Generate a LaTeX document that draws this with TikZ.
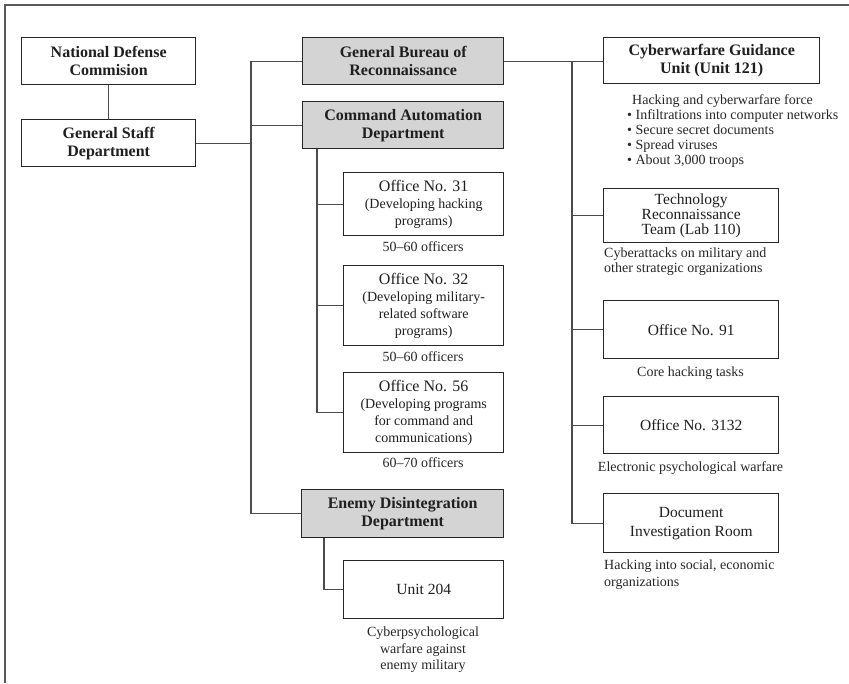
\documentclass[tikz,border=0pt]{standalone}
\usepackage{fontspec}
\setmainfont{Liberation Serif}
\begin{document}
\begin{tikzpicture}[x=1pt,y=-1pt,
  box/.style={draw=black!85, line width=1.4pt, fill=white, align=center, inner sep=2pt, anchor=north west, text=black!88},
  gbox/.style={box, fill=black!17},
  bt/.style={font=\bfseries\fontsize{16}{18}\selectfont},
  rt/.style={font=\fontsize{15.5}{16}\selectfont},
  st/.style={font=\fontsize{14}{17}\selectfont},
  conn/.style={draw=black!70, line width=1.1pt},
  captext/.style={font=\fontsize{14}{15}\selectfont, text=black!85, inner sep=0pt}
]
\useasboundingbox (0,0) rectangle (849,683);
\draw[draw=black!65, line width=1.6pt] (5,683) -- (5,5) -- (849,5);

% left column
\node[box,bt,minimum width=174pt,minimum height=47pt] (ndc) at (21,37) {National Defense\\Commision};
\node[box,bt,minimum width=174pt,minimum height=47pt] (gsd) at (21,119) {General Staff\\Department};

% middle column
\node[gbox,bt,minimum width=201pt,minimum height=47pt] (gbr) at (302,37) {General Bureau of\\Reconnaissance};
\node[gbox,bt,minimum width=201pt,minimum height=47pt] (cad) at (302,101) {Command Automation\\Department};
\node[box,st,minimum width=160pt,minimum height=63pt] (o31) at (343,172) {{\fontsize{16}{17}\selectfont Office No. 31}\\(Developing hacking\\programs)};
\node[box,st,minimum width=160pt,minimum height=80pt] (o32) at (343,265) {{\fontsize{16}{17}\selectfont Office No. 32}\\(Developing military-\\related software\\programs)};
\node[box,st,minimum width=160pt,minimum height=80pt] (o56) at (343,372) {{\fontsize{16}{17}\selectfont Office No. 56}\\(Developing programs\\for command and\\communications)};
\node[gbox,bt,minimum width=202pt,minimum height=48pt] (ed) at (301,489) {Enemy Disintegration\\Department};
\node[box,rt,minimum width=160pt,minimum height=58pt] (u204) at (343,560) {Unit 204};

\node[captext,anchor=base] (c31) at (423,251) {50--60 officers};
\node[captext,anchor=base] (c32) at (423,361) {50--60 officers};
\node[captext,anchor=base] (c56) at (423,467) {60--70 officers};
\node[captext,anchor=base] (cu1) at (423,636) {Cyberpsychological};
\node[captext,anchor=base] (cu2) at (423,653) {warfare against};
\node[captext,anchor=base] (cu3) at (423,669) {enemy military};

% right column
\node[box,bt,minimum width=216pt,minimum height=46pt] (cgu) at (603,37) {Cyberwarfare Guidance\\Unit (Unit 121)};
\node[box,font=\fontsize{15.5}{15}\selectfont,minimum width=175pt,minimum height=54pt] (trt) at (603,188) {Technology\\Reconnaissance\\Team (Lab 110)};
\node[box,rt,minimum width=175pt,minimum height=58pt] (o91) at (603,300) {Office No. 91};
\node[box,rt,minimum width=175pt,minimum height=57pt] (o3132) at (603,396) {Office No. 3132};
\node[box,font=\fontsize{15.5}{19}\selectfont,minimum width=175pt,minimum height=59pt] (dir) at (603,493) {Document\\Investigation Room};

\node[captext,anchor=base west] (g0) at (632,104) {Hacking and cyberwarfare force};
\node[captext,anchor=base west] (g1) at (627,119) {• Infiltrations into computer networks};
\node[captext,anchor=base west] (g2) at (627,134) {• Secure secret documents};
\node[captext,anchor=base west] (g3) at (627,149) {• Spread viruses};
\node[captext,anchor=base west] (g4) at (627,164) {• About 3,000 troops};
\node[captext,anchor=base west] (t1) at (604,257) {Cyberattacks on military and};
\node[captext,anchor=base west] (t2) at (604,272) {other strategic organizations};
\node[captext,anchor=base] (n91) at (690.5,376) {Core hacking tasks};
\node[captext,anchor=base] (n3132) at (690.5,471) {Electronic psychological warfare};
\node[captext,anchor=base west] (d1) at (604,569) {Hacking into social, economic};
\node[captext,anchor=base west] (d2) at (604,586) {organizations};

% trunk x positions
\coordinate (tx) at (251,0);
\coordinate (cx) at (317,0);
\coordinate (ex) at (324,0);
\coordinate (rx) at (572,0);

% connectors
\draw[conn] (ndc.south) -- (gsd.north);
\draw[conn] (gsd.east) -- (gsd.east -| tx);
\draw[conn] (gbr.west) -- (gbr.west -| tx) |- (ed.west);
\draw[conn] (cad.west) -- (cad.west -| tx);
\draw[conn] (cad.south -| cx) |- (o56.west);
\draw[conn] (o31.west) -- (o31.west -| cx);
\draw[conn] (o32.west) -- (o32.west -| cx);
\draw[conn] (ed.south -| ex) |- (u204.west);
\draw[conn] (gbr.east) -- (gbr.east -| cgu.west);
\draw[conn] (gbr.east -| rx) |- (dir.west);
\draw[conn] (trt.west) -- (trt.west -| rx);
\draw[conn] (o91.west) -- (o91.west -| rx);
\draw[conn] (o3132.west) -- (o3132.west -| rx);
\end{tikzpicture}
\end{document}
